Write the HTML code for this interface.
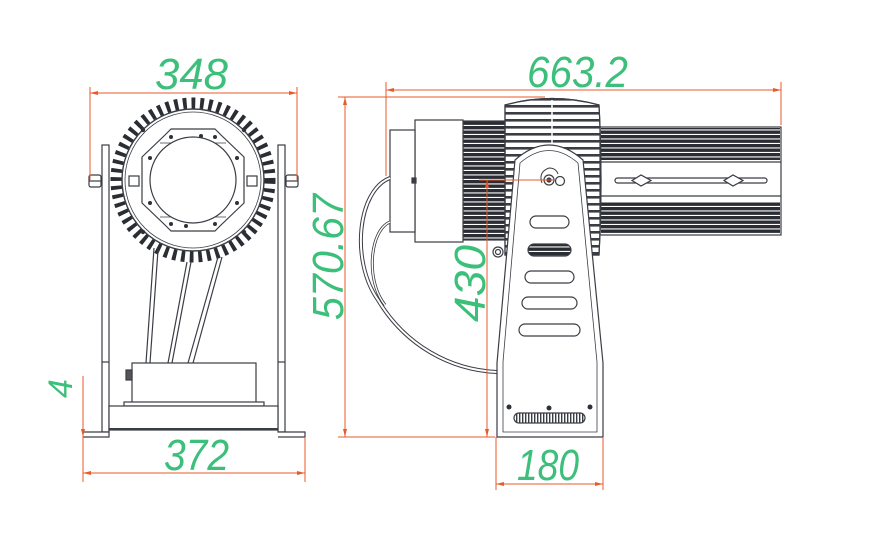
<!DOCTYPE html>
<html><head><meta charset="utf-8"><style>
html,body{margin:0;padding:0;background:#fff;}
svg{display:block}
text{font-family:"Liberation Sans",sans-serif;fill:#3cbf7a;}
</style></head><body>
<svg width="895" height="553" viewBox="0 0 895 553" xmlns="http://www.w3.org/2000/svg">
<defs>
<pattern id="hf" width="4" height="4.5" patternUnits="userSpaceOnUse"><rect width="4" height="3.4" fill="#2a2d33"/></pattern>
<pattern id="fan" width="4" height="7" patternUnits="userSpaceOnUse"><rect width="4" height="2.6" fill="#3a3d44"/></pattern>
<pattern id="gr" width="3" height="10" patternUnits="userSpaceOnUse"><rect width="1.4" height="10" fill="#3a3d44"/></pattern>
</defs>

<!-- ============ LEFT VIEW ============ -->
<g stroke="#3a3d44" fill="none" stroke-width="1.2">
  <rect x="102" y="145" width="7" height="287" fill="#fff"/>
  <rect x="278" y="145" width="7" height="287" fill="#fff"/>
  <line x1="102" y1="362" x2="109" y2="362"/>
  <line x1="278" y1="362" x2="285" y2="362"/>
  <rect x="89" y="175" width="12" height="12" rx="2" fill="#fff"/>
  <rect x="286" y="175" width="12" height="12" rx="2" fill="#fff"/>
  <line x1="89" y1="181" x2="101" y2="181"/><line x1="286" y1="181" x2="298" y2="181"/>
  <circle cx="193" cy="180" r="77" stroke="#2a2d33" stroke-width="11" stroke-dasharray="3.8 4.8"/>
  <circle cx="193" cy="180" r="71" fill="#fff" stroke-width="1.4"/>
  <circle cx="193" cy="180" r="68" stroke-width="0.8"/>
  <path d="M171 129 L215 129 L221 135 L244 157 L244 203 L221 225 L215 231 L171 231 L165 225 L142 203 L142 157 L165 135 Z" fill="#fff" stroke-linejoin="round"/>
  <path d="M160 143 L226 143 M160 217 L226 217" stroke-width="0.8"/>
  <circle cx="193" cy="180" r="43" fill="#fff"/>
  <rect x="129" y="176" width="10" height="10"/><rect x="247" y="176" width="10" height="10"/>
  <g fill="#2e3138" stroke="none">
    <circle cx="143" cy="130" r="2.2"/><circle cx="244" cy="130" r="2.2"/>
    <circle cx="143" cy="232" r="2.2"/><circle cx="244" cy="232" r="2.2"/>
    <circle cx="171" cy="137" r="2"/><circle cx="201" cy="136" r="2"/><circle cx="215" cy="137" r="2"/>
    <circle cx="150" cy="158" r="2"/><circle cx="237" cy="158" r="2"/>
    <circle cx="150" cy="203" r="2"/><circle cx="237" cy="203" r="2"/>
    <circle cx="171" cy="224" r="2"/><circle cx="186" cy="226" r="2"/><circle cx="215" cy="224" r="2"/>
  </g>
  <path d="M154 248 L146 363 M158 250 L150 363"/>
  <path d="M187 262 L168 363 M191 262 L172 363"/>
  <path d="M218 257 L188 363 M222 257 L193 363"/>
  <rect x="132" y="363" width="124" height="40" fill="#fff"/>
  <rect x="126" y="370" width="6" height="10" fill="#555"/>
  <rect x="124" y="402" width="140" height="4" fill="#fff"/>
  <rect x="109" y="406" width="169" height="24" fill="#fff"/>
  <line x1="109" y1="429" x2="278" y2="429" stroke-width="2"/>
  <path d="M83 432 L109 432 L109 437 L83 437" fill="#fff"/>
  <path d="M278 432 L305 432 L305 437 L278 437" fill="#fff"/>
</g>

<!-- ============ RIGHT VIEW ============ -->
<g stroke="#3a3d44" fill="none" stroke-width="1.2">
  <rect x="600" y="127" width="181" height="108" fill="#fff"/>
  <rect x="601" y="128" width="179" height="32" fill="url(#hf)" stroke="none"/>
  <rect x="601" y="202" width="179" height="32" fill="url(#hf)" stroke="none"/>
  <line x1="600" y1="162" x2="781" y2="162"/><line x1="600" y1="196" x2="781" y2="196"/>
  <rect x="615" y="178" width="152" height="5" rx="2.5" fill="#fff"/>
  <path d="M632 180.5 L641 175 L651 180.5 L641 186 Z M724 180.5 L733 175 L743 180.5 L733 186 Z" fill="#fff"/>
  <path d="M505 105 Q552 92 599 105 Q603 180 599 255 L505 255 Z" fill="url(#fan)"/>
  <path d="M505 105 Q552 92 599 105 Q603 180 599 255 L505 255 Z"/>
  <line x1="552" y1="100" x2="552" y2="145" stroke="#fff" stroke-width="1.5"/>
  <rect x="463" y="121" width="42" height="119" fill="url(#hf)" stroke="none"/>
  <rect x="463" y="121" width="42" height="119"/>
  <rect x="415" y="120" width="48" height="122" fill="#fff"/>
  <rect x="390" y="130" width="25" height="102" fill="#fff"/>
  <rect x="412" y="178" width="4" height="5" fill="#3a3d44"/>
  <path d="M390 178 C358 190 350 260 378 300 C405 345 450 370 497 372" stroke-width="4"/>
  <path d="M390 178 C358 190 350 260 378 300 C405 345 450 370 497 372" stroke="#fff" stroke-width="2"/>
  <path d="M390 222 C370 230 365 280 385 305" stroke-width="3"/>
  <path d="M390 222 C370 230 365 280 385 305" stroke="#fff" stroke-width="1.4"/>
  <path d="M515 160 Q549 130 583 160 L603 363 L603 437 L497 437 L497 363 Z" fill="#fff"/>
  <path d="M520 163 Q549 138 578 163 L597 362 L597 432 L503 432 L503 362 Z" stroke-width="0.8"/>
  <circle cx="549" cy="180" r="5" fill="#fff"/><circle cx="549" cy="180" r="2" fill="#3a3d44"/>
  <circle cx="560" cy="181" r="4.5" fill="#fff"/>
  <path d="M542 183 Q538 172 549 168 Q556 168 558 174" stroke-width="1"/>
  <circle cx="498" cy="252" r="5" fill="#fff"/><circle cx="498" cy="252" r="2.5"/>
  <rect x="530" y="216" width="39" height="12" rx="6" fill="#fff"/>
  <rect x="528" y="244" width="43" height="12" rx="6" fill="url(#hf)"/>
  <rect x="525" y="271" width="49" height="12" rx="6" fill="#fff"/>
  <rect x="522" y="297" width="55" height="12" rx="6" fill="#fff"/>
  <rect x="519" y="324" width="61" height="12" rx="6" fill="#fff"/>
  <g fill="#2e3138" stroke="none"><circle cx="509" cy="407" r="2.5"/><circle cx="549" cy="408" r="2.5"/><circle cx="590" cy="407" r="2.5"/></g>
  <rect x="514" y="413" width="71" height="10" rx="5" fill="url(#gr)"/>
</g>

<!-- ============ DIMENSIONS ============ -->
<g stroke="#ea5a28" stroke-width="1" fill="none">
  <line x1="90" y1="93" x2="297" y2="93"/>
  <line x1="90" y1="87" x2="90" y2="180"/><line x1="297" y1="87" x2="297" y2="180"/>
  <line x1="83" y1="473" x2="305" y2="473"/>
  <line x1="83" y1="437" x2="83" y2="482"/><line x1="305" y1="437" x2="305" y2="482"/>
  <line x1="83" y1="376" x2="83" y2="437"/>
  <line x1="386" y1="90" x2="781" y2="90"/>
  <line x1="386" y1="82" x2="386" y2="176"/><line x1="781" y1="82" x2="781" y2="125"/>
  <line x1="338" y1="97" x2="545" y2="97"/>
  <line x1="338" y1="437" x2="495" y2="437"/>
  <line x1="345" y1="97" x2="345" y2="437"/>
  <line x1="479" y1="180" x2="553" y2="180"/>
  <line x1="487" y1="180" x2="487" y2="437"/>
  <line x1="496" y1="437" x2="496" y2="490"/><line x1="603" y1="437" x2="603" y2="490"/>
  <line x1="496" y1="484" x2="603" y2="484"/>
</g>
<g fill="#ea5a28">
  <path d="M90 93 l8 -2 v4z M297 93 l-8 -2 v4z"/>
  <path d="M83 473 l8 -2 v4z M305 473 l-8 -2 v4z"/>
  <path d="M386 90 l8 -2 v4z M781 90 l-8 -2 v4z"/>
  <path d="M345 97 l-2 8 h4z M345 437 l-2 -8 h4z"/>
  <path d="M487 180 l-2 8 h4z M487 437 l-2 -8 h4z"/>
  <path d="M496 484 l8 -2 v4z M603 484 l-8 -2 v4z"/>
  <path d="M83 437 l-2 -8 h4z"/>
</g>

<text x="155" y="89" font-size="44" textLength="73" lengthAdjust="spacingAndGlyphs" font-style="italic">348</text>
<text x="164" y="470" font-size="44" textLength="65" lengthAdjust="spacingAndGlyphs" font-style="italic">372</text>
<text x="527" y="87" font-size="44" textLength="101" lengthAdjust="spacingAndGlyphs" font-style="italic">663.2</text>
<text x="517" y="480" font-size="44" textLength="62" lengthAdjust="spacingAndGlyphs" font-style="italic">180</text>
<text transform="translate(343 320) rotate(-90)" font-size="44" textLength="126" lengthAdjust="spacingAndGlyphs" font-style="italic">570.67</text>
<text transform="translate(485 322) rotate(-90)" font-size="44" textLength="77" lengthAdjust="spacingAndGlyphs" font-style="italic">430</text>
<text transform="translate(72 398) rotate(-90)" font-size="34" font-style="italic">4</text>
</svg>
</body></html>
